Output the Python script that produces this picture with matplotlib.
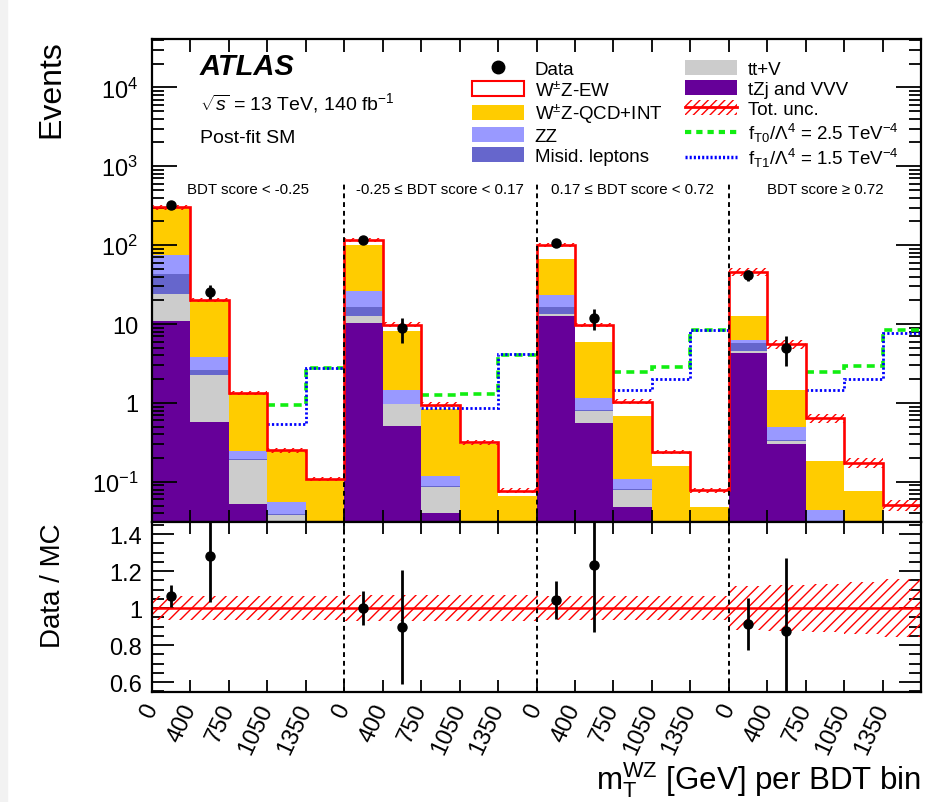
import numpy as np
import matplotlib
matplotlib.use("Agg")
import matplotlib.pyplot as plt
from matplotlib.patches import Patch, Rectangle
from matplotlib.lines import Line2D
from matplotlib.ticker import FixedLocator, MultipleLocator, LogLocator, NullFormatter, FixedFormatter

plt.rcParams['font.family'] = ['Liberation Sans', 'DejaVu Sans']
plt.rcParams['mathtext.fontset'] = 'custom'
plt.rcParams['mathtext.rm'] = 'Liberation Sans'
plt.rcParams['mathtext.it'] = 'Liberation Sans:italic'
plt.rcParams['mathtext.bf'] = 'Liberation Sans:bold'
plt.rcParams['hatch.linewidth'] = 1.0

# --- DATA (4 BDT regions x 5 mT bins) ---
region_labels = ["BDT score < -0.25", "-0.25 \u2264 BDT score < 0.17",
                 "0.17 \u2264 BDT score < 0.72", "BDT score \u2265 0.72"]
mt_labels = ["0", "400", "750", "1050", "1350"]

tzj_vvv = [11.0, 0.57, 0.052, 0.025, 0.010,
           10.3, 0.516, 0.0405, 0.012, 0.005,
           12.7, 0.553, 0.0478, 0.012, 0.005,
           4.25, 0.303, 0.022, 0.010, 0.005]
ttv = [13.0, 1.69, 0.138, 0.0125, 0.005,
       2.4, 0.454, 0.045, 0.006, 0.003,
       0.9, 0.247, 0.0312, 0.005, 0.003,
       0.35, 0.030, 0.006, 0.004, 0.002]
misid = [19.0, 0.36, 0.005, 0.002, 0.001,
         3.9, 0.010, 0.002, 0.001, 0.0,
         3.0, 0.005, 0.001, 0.0, 0.0,
         1.1, 0.002, 0.001, 0.0, 0.0]
zz = [31.7, 1.24, 0.050, 0.0165, 0.008,
      9.3, 0.48, 0.0295, 0.008, 0.004,
      6.7, 0.355, 0.029, 0.010, 0.004,
      0.57, 0.157, 0.0144, 0.010, 0.004]
wz_qcd = [217.0, 15.5, 1.055, 0.191, 0.081,
          75.1, 6.78, 0.723, 0.273, 0.055,
          43.2, 4.81, 0.581, 0.131, 0.0358,
          6.23, 0.978, 0.1426, 0.052, 0.012]
wz_ew = [10.0, 0.8, 0.03, 0.004, 0.004,
         16.0, 1.56, 0.11, 0.018, 0.0107,
         34.5, 3.78, 0.35, 0.08, 0.03,
         33.4, 4.11, 0.454, 0.098, 0.028]
tot_unc = [0.063, 0.063, 0.063, 0.063, 0.063,
           0.068, 0.068, 0.068, 0.068, 0.068,
           0.065, 0.065, 0.065, 0.065, 0.065,
           0.12, 0.125, 0.13, 0.14, 0.155]

# EFT predictions; NaN where they sit under the SM total line
nan = np.nan
eft_t0 = [nan, nan, nan, 0.94, 2.8,
          nan, nan, 1.26, 1.30, 4.1,
          nan, nan, 2.44, 2.88, 8.5,
          nan, nan, 2.44, 2.95, 8.4]
eft_t1 = [nan, nan, nan, 0.54, 2.75,
          nan, nan, 0.87, 0.87, 4.2,
          nan, nan, 1.47, 2.01, 8.4,
          nan, nan, 1.47, 2.0, 7.7]

data = [321, 25.8, nan, nan, nan,
        117, 8.8, nan, nan, nan,
        105.5, 12.0, nan, nan, nan,
        42.0, 4.9, nan, nan, nan]
data_err_lo = [18, 5.0, nan, nan, nan,
               11, 3.0, nan, nan, nan,
               10.4, 3.5, nan, nan, nan,
               6.4, 2.0, nan, nan, nan]
data_err_hi = [18, 5.2, nan, nan, nan,
               11, 3.0, nan, nan, nan,
               10.4, 3.5, nan, nan, nan,
               6.4, 2.2, nan, nan, nan]

# --- COLOURS ---
c_purple = '#660099'
c_gray = '#cccccc'
c_misid = '#6666cc'
c_zz = '#9999ff'
c_gold = '#ffcc00'
c_red = '#ff0000'
c_green = '#11ee11'
c_blue = '#0000ff'

nbins = len(data)
edges = np.arange(nbins + 1)
centers = edges[:-1] + 0.5
ymin, ymax = 0.031, 4.1e4

fig = plt.figure(figsize=(9.49, 8.03), dpi=100)
fig.patches.append(Rectangle((0, 0), 7 / 949, 1, transform=fig.transFigure,
                             color='#f2f2f2', zorder=-10))
ax = fig.add_axes([0.1602, 0.3487, 0.8103, 0.6015])
rax = fig.add_axes([0.1602, 0.137, 0.8103, 0.2117], sharex=ax)

# --- MAIN PANEL: stacked backgrounds ---
stack = [(tzj_vvv, c_purple), (ttv, c_gray), (misid, c_misid),
         (zz, c_zz), (wz_qcd, c_gold), (wz_ew, 'white')]
base = np.full(nbins, 1e-4)
for vals, col in stack:
    top = base + np.array(vals)
    ax.stairs(top, edges, baseline=base, fill=True, color=col, lw=0, zorder=1)
    base = top
total = base - 1e-4
unc = np.array(tot_unc)

ax.stairs(eft_t0, edges, baseline=None, color=c_green, lw=2.6,
          linestyle=(0, (2.2, 1.5)), zorder=3)
ax.stairs(eft_t1, edges, baseline=None, color=c_blue, lw=2.0,
          linestyle=(0, (0.8, 0.8)), zorder=3)
ax.stairs(total * (1 + unc), edges, baseline=total * (1 - unc), fill=True,
          facecolor='none', edgecolor=c_red, hatch='////', lw=0, zorder=4)
ax.stairs(total, edges, baseline=None, color=c_red, lw=1.9, zorder=5)

ax.errorbar(centers, data, yerr=[data_err_lo, data_err_hi], fmt='o', color='black',
            ms=6.5, elinewidth=2, capsize=0, zorder=6)

for b in [5, 10, 15]:
    ax.plot([b, b], [ymin, 600], color='black', ls=(0, (2.5, 2)), lw=1.4, zorder=7)
for i, lab in enumerate(region_labels):
    ax.text(5 * i + 2.5, 510, lab, ha='center', va='center', fontsize=10.8)

ax.set_yscale('log')
ax.set_ylim(ymin, ymax)
ax.set_xlim(0, nbins)

ax.yaxis.set_major_locator(FixedLocator([0.1, 1, 10, 100, 1e3, 1e4]))
ax.yaxis.set_major_formatter(FixedFormatter(
    [r'10$^{\mathregular{-1}}$', '1', '10', r'10$^{\mathregular{2}}$',
     r'10$^{\mathregular{3}}$', r'10$^{\mathregular{4}}$']))
ax.yaxis.set_minor_locator(LogLocator(base=10, subs=np.arange(2, 10), numticks=20))
ax.yaxis.set_minor_formatter(NullFormatter())
ax.xaxis.set_major_locator(FixedLocator([0, 5, 10, 15, 20]))
ax.xaxis.set_minor_locator(FixedLocator(edges))
ax.tick_params(axis='x', which='both', labelbottom=False)
ax.tick_params(which='both', direction='in', top=True, right=True, width=1.3)
ax.tick_params(axis='y', which='major', length=18, labelsize=17, pad=10)
ax.tick_params(axis='y', which='minor', length=8.5)
ax.tick_params(axis='x', which='major', length=9)
ax.tick_params(axis='x', which='minor', length=3)
for s in ax.spines.values():
    s.set_linewidth(1.6)
    s.set_zorder(10)

ax.set_ylabel('Events', fontsize=23, loc='top')
ax.yaxis.set_label_coords(-0.112, 1.0)

ax.text(0.0624, 0.944, 'ATLAS', transform=ax.transAxes, fontsize=21,
        fontweight='bold', fontstyle='italic', va='center')
ax.text(0.0624, 0.870, r'$\sqrt{s}$ = 13 TeV, 140 fb$^{\mathregular{-1}}$',
        transform=ax.transAxes, fontsize=14, va='center')
ax.text(0.0624, 0.797, 'Post-fit SM', transform=ax.transAxes, fontsize=14, va='center')

handles = [
    Line2D([], [], marker='o', color='black', ls='none', ms=9),
    Patch(facecolor='white', edgecolor=c_red, lw=1.5),
    Patch(facecolor=c_gold, edgecolor='none'),
    Patch(facecolor=c_zz, edgecolor='none'),
    Patch(facecolor=c_misid, edgecolor='none'),
    Patch(facecolor=c_gray, edgecolor='none'),
    Patch(facecolor=c_purple, edgecolor='none'),
    (Patch(facecolor='none', edgecolor=c_red, hatch='////', lw=0),
     Line2D([], [], color=c_red, lw=2)),
    Line2D([], [], color=c_green, lw=3, ls=(0, (1.5, 1.2))),
    Line2D([], [], color=c_blue, lw=2.5, ls=(0, (0.6, 0.6))),
]
labels = ['Data', r'W$^{\pm}$Z-EW', r'W$^{\pm}$Z-QCD+INT', 'ZZ', 'Misid. leptons',
          'tt+V', 'tZj and VVV', 'Tot. unc.',
          r'f$_{\mathregular{T0}}$/$\Lambda^{\mathregular{4}}$ = 2.5 TeV$^{\mathregular{-4}}$',
          r'f$_{\mathregular{T1}}$/$\Lambda^{\mathregular{4}}$ = 1.5 TeV$^{\mathregular{-4}}$']
ax.legend(handles, labels, ncol=2, loc='upper left', bbox_to_anchor=(0.416, 0.957),
          frameon=False, fontsize=13.5, handlelength=2.8, handleheight=0.85,
          handletextpad=0.55, labelspacing=0.12, columnspacing=1.2,
          borderpad=0, borderaxespad=0)

# --- RATIO PANEL ---
ratio = np.array(data) / total
ratio_lo = np.array(data_err_lo) / total
ratio_hi = np.array(data_err_hi) / total
rax.stairs(1 + unc, edges, baseline=1 - unc, fill=True, facecolor='none',
           edgecolor=c_red, hatch='///', lw=0, zorder=2)
rax.axhline(1, color=c_red, lw=1.8, zorder=3)
rax.errorbar(centers, ratio, yerr=[ratio_lo, ratio_hi], fmt='o', color='black',
             ms=6.5, elinewidth=2, capsize=0, zorder=5)
for b in [5, 10, 15]:
    rax.axvline(b, color='black', ls=(0, (2.5, 2)), lw=1.4, zorder=4)

rax.set_ylim(0.546, 1.465)
rax.set_xlim(0, nbins)
rax.yaxis.set_major_locator(FixedLocator([0.6, 0.8, 1.0, 1.2, 1.4]))
rax.yaxis.set_major_formatter(FixedFormatter(['0.6', '0.8', '1', '1.2', '1.4']))
rax.yaxis.set_minor_locator(MultipleLocator(0.05))
rax.xaxis.set_major_locator(FixedLocator(edges))
rax.xaxis.set_major_formatter(FixedFormatter(mt_labels * 4 + ['']))
rax.xaxis.set_minor_locator(FixedLocator([]))
rax.tick_params(which='both', direction='in', top=True, right=True, width=1.3)
rax.tick_params(axis='y', which='major', length=16, labelsize=17, pad=7)
rax.tick_params(axis='y', which='minor', length=8.5)
rax.tick_params(axis='x', which='major', length=8.5, labelsize=17, pad=9)
for lab in rax.get_xticklabels():
    lab.set_rotation(65)
    lab.set_ha('right')
    lab.set_va('center')
    lab.set_rotation_mode('anchor')
for s in rax.spines.values():
    s.set_linewidth(1.6)
    s.set_zorder(10)

rax.set_ylabel('Data / MC', fontsize=20, loc='top')
rax.yaxis.set_label_coords(-0.112, 1.0)
rax.set_xlabel(r'm$_{\mathregular{T}}^{\mathregular{WZ}}$ [GeV] per BDT bin',
               fontsize=22.5, loc='right')
rax.xaxis.set_label_coords(1.0, -0.395)

fig.savefig('out.png', dpi=100)
